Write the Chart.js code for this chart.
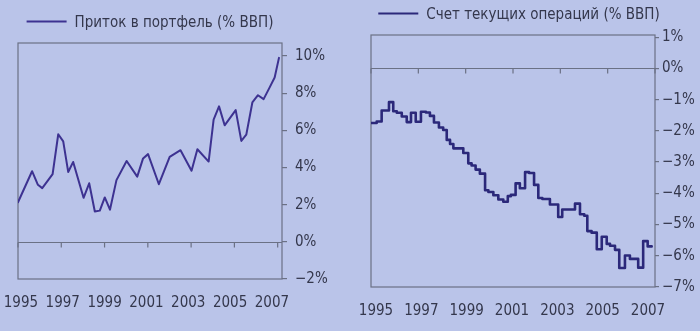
<!DOCTYPE html>
<html>
<head>
<meta charset="utf-8">
<script src="https://cdn.jsdelivr.net/npm/chart.js@4.4.1/dist/chart.umd.min.js"></script>
<style>
  html, body { margin: 0; padding: 0; background: #bac4e9; }
  #wrap { position: relative; width: 700px; height: 331px; overflow: hidden; }
  canvas { position: absolute; top: 0; }
  #left { left: 0; }
  #right { left: 350px; }
</style>
</head>
<body>
<div id="wrap">
  <canvas id="left" width="350" height="331"></canvas>
  <canvas id="right" width="350" height="331"></canvas>
</div>
<script>
// приток в портфель, % ВВП
const portfolioYears = [1995.0, 1995.65, 1995.92, 1996.12, 1996.6, 1996.86, 1997.09, 1997.32, 1997.55,
  1998.03, 1998.29, 1998.55, 1998.78, 1999.01, 1999.25, 1999.55, 2000.02, 2000.51, 2000.78,
  2001.01, 2001.51, 2002.01, 2002.51, 2003.02, 2003.29, 2003.81, 2004.04, 2004.29, 2004.55,
  2005.06, 2005.32, 2005.55, 2005.83, 2006.09, 2006.35, 2006.63, 2006.86, 2007.06];
const portfolioShare = [2.13, 3.8, 3.07, 2.89, 3.64, 5.79, 5.41, 3.76, 4.3,
  2.37, 3.15, 1.63, 1.68, 2.39, 1.73, 3.32, 4.35, 3.51, 4.49,
  4.72, 3.1, 4.57, 4.93, 3.83, 4.98, 4.32, 6.58, 7.29, 6.27,
  7.09, 5.43, 5.77, 7.5, 7.89, 7.68, 8.31, 8.84, 9.9];

// счет текущих операций, % ВВП (ступеньки)
const currentYears = [1995.0, 1995.24, 1995.45, 1995.76, 1995.94, 1996.09, 1996.3, 1996.51, 1996.69,
  1996.89, 1997.11, 1997.32, 1997.49, 1997.66, 1997.87, 1998.05, 1998.2, 1998.34, 1998.48,
  1998.9, 1999.11, 1999.25, 1999.42, 1999.6, 1999.82, 1999.96, 2000.17, 2000.38, 2000.59,
  2000.78, 2000.91, 2001.11, 2001.29, 2001.51, 2001.68, 2001.89, 2002.07, 2002.24, 2002.56,
  2002.91, 2003.08, 2003.62, 2003.83, 2004.01, 2004.14, 2004.32, 2004.54, 2004.75, 2004.96,
  2005.1, 2005.31, 2005.49, 2005.73, 2005.94, 2006.29, 2006.5, 2006.69, 2006.86];
const currentShare = [-1.75, -1.7, -1.35, -1.08, -1.37, -1.42, -1.54, -1.72, -1.42,
  -1.71, -1.39, -1.41, -1.52, -1.73, -1.89, -1.97, -2.29, -2.42, -2.56,
  -2.71, -3.04, -3.11, -3.24, -3.37, -3.9, -3.96, -4.06, -4.2, -4.27,
  -4.09, -4.05, -3.68, -3.84, -3.32, -3.35, -3.73, -4.15, -4.18, -4.36,
  -4.76, -4.52, -4.33, -4.67, -4.72, -5.21, -5.26, -5.79, -5.39, -5.62,
  -5.68, -5.81, -6.39, -5.99, -6.1, -6.38, -5.53, -5.7, -5.7];

const yearTicks = [1995, 1997, 1999, 2001, 2003, 2005, 2007];
const leftTicks = [-2, 0, 2, 4, 6, 8, 10];
const rightTicks = [-7, -6, -5, -4, -3, -2, -1, 0, 1];

const frameColor = '#6b7185';
const textColor = '#34374c';
const fontFamily = '"DejaVu Sans Condensed", "Liberation Sans Narrow", Roboto, sans-serif';

Chart.defaults.font.family = fontFamily;
Chart.defaults.font.size = 15;
Chart.defaults.color = textColor;

function pct(v) {
  return (v < 0 ? '\u2212' : '') + Math.abs(v) + '%';
}

// оси не должны сдвигать область графика из-за подписей
function noOverflow(axis) {
  axis.paddingLeft = 0;
  axis.paddingRight = 0;
  axis.paddingTop = 0;
  axis.paddingBottom = 0;
}

// рамка, нулевая линия и засечки лет на ней
const framePlugin = {
  id: 'frame',
  beforeDatasetsDraw(chart) {
    const { ctx, chartArea: a, scales } = chart;
    const y0 = Math.round(scales.y.getPixelForValue(0)) + 0.5;
    ctx.save();
    ctx.strokeStyle = frameColor;
    ctx.lineWidth = 1.2;
    ctx.strokeRect(a.left, a.top, a.right - a.left, a.bottom - a.top);
    ctx.beginPath();
    ctx.moveTo(a.left, y0);
    ctx.lineTo(a.right, y0);
    yearTicks.forEach(yr => {
      const x = scales.x.getPixelForValue(yr);
      ctx.moveTo(x, y0);
      ctx.lineTo(x, y0 + 5);
    });
    ctx.stroke();
    ctx.restore();
  }
};

// подпись ряда над графиком
const captionPlugin = {
  id: 'caption',
  afterDraw(chart, args, opts) {
    const { ctx, chartArea: a } = chart;
    const ds = chart.data.datasets[0];
    ctx.save();
    ctx.font = '15px ' + fontFamily;
    const tw = ctx.measureText(ds.label).width;
    const total = 40 + 8 + tw;
    const x = (a.left + a.right) / 2 - total / 2 + (opts.shift || 0);
    const y = a.top - 21.5;
    ctx.strokeStyle = ds.borderColor;
    ctx.lineWidth = 2;
    ctx.beginPath();
    ctx.moveTo(x, y);
    ctx.lineTo(x + 40, y);
    ctx.stroke();
    ctx.fillStyle = textColor;
    ctx.textBaseline = 'alphabetic';
    ctx.fillText(ds.label, x + 48, y + 5.5);
    ctx.restore();
  }
};

function makeChart(id, cfg) {
  return new Chart(document.getElementById(id), {
    type: 'line',
    data: {
      datasets: [{
        label: cfg.label,
        data: cfg.years.map((yr, i) => ({ x: yr, y: cfg.values[i] })),
        borderColor: cfg.color,
        borderWidth: cfg.width,
        stepped: cfg.stepped,
        pointRadius: 0,
        tension: 0,
        borderJoinStyle: 'round',
        borderCapStyle: 'round',
        fill: false
      }]
    },
    options: {
      responsive: false,
      devicePixelRatio: 1,
      animation: false,
      layout: { autoPadding: false, padding: { top: cfg.top, left: cfg.left, right: 0, bottom: 0 } },
      plugins: {
        legend: { display: false },
        tooltip: { enabled: false },
        caption: { shift: cfg.captionShift }
      },
      scales: {
        x: {
          type: 'linear',
          display: false,
          min: 1995,
          max: cfg.xMax
        },
        xl: {
          type: 'linear',
          position: 'bottom',
          min: cfg.labelMin,
          max: cfg.labelMax,
          afterBuildTicks: axis => { axis.ticks = yearTicks.map(v => ({ value: v })); },
          afterFit: axis => { axis.height = cfg.xHeight; noOverflow(axis); },
          grid: { display: false, drawTicks: false },
          border: { display: false },
          ticks: { padding: cfg.xPad, maxRotation: 0, autoSkip: false, callback: v => String(v) }
        },
        y: {
          type: 'linear',
          position: 'right',
          min: cfg.yMin,
          max: cfg.yMax,
          afterBuildTicks: axis => { axis.ticks = cfg.ticks.map(v => ({ value: v })); },
          afterFit: axis => { axis.width = cfg.yWidth; noOverflow(axis); },
          grid: { drawOnChartArea: false, drawTicks: true, tickLength: cfg.tickLen, color: frameColor, lineWidth: 1.2 },
          border: { display: false },
          ticks: { padding: cfg.yPad, callback: pct }
        }
      }
    },
    plugins: [framePlugin, captionPlugin]
  });
}

makeChart('left', {
  label: 'Приток в портфель (% ВВП)',
  years: portfolioYears,
  values: portfolioShare,
  color: '#3d3291',
  width: 2,
  stepped: false,
  top: 43, left: 18,
  xMax: 2007.2, labelMin: 1994.86, labelMax: 2007.48,
  xHeight: 52, xPad: 15,
  yMin: -2, yMax: 10.7, ticks: leftTicks,
  yWidth: 68, tickLen: 5, yPad: 8,
  captionShift: 0
});

makeChart('right', {
  label: 'Счет текущих операций (% ВВП)',
  years: currentYears,
  values: currentShare,
  color: '#2b287a',
  width: 2.6,
  stepped: true,
  top: 35, left: 21,
  xMax: 2007, labelMin: 1994.78, labelMax: 2007.31,
  xHeight: 44, xPad: 15.5,
  yMin: -7, yMax: 1.07, ticks: rightTicks,
  yWidth: 45, tickLen: 4, yPad: 3,
  captionShift: 6
});
</script>
</body>
</html>
